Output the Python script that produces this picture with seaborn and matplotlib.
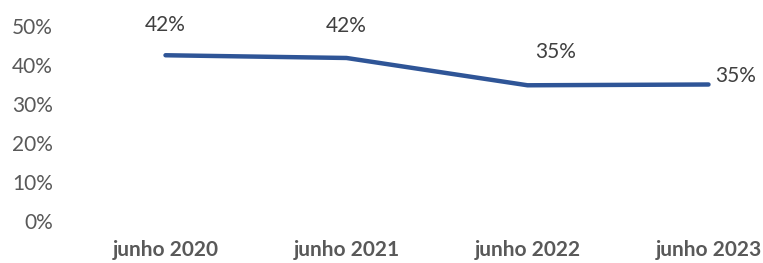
import matplotlib
matplotlib.use("Agg")
import matplotlib.pyplot as plt
import seaborn as sns
import pandas as pd
from matplotlib.ticker import PercentFormatter

# data
periods = ["junho 2020", "junho 2021", "junho 2022", "junho 2023"]
shares = [0.425, 0.418, 0.348, 0.350]
labels = ["42%", "42%", "35%", "35%"]

df = pd.DataFrame({"periodo": periods, "valor": shares})

sns.set_theme(style="white")
plt.rcParams["font.family"] = ["Lato", "DejaVu Sans"]

grey = "#595959"
blue = "#2F5597"

fig = plt.figure(figsize=(7.63, 2.63), dpi=100)
# axes placed in pixel terms: left 75px, 0% at y=221, 50% at y=26
ax = fig.add_axes([75 / 763, 42 / 263, 688 / 763, 195 / 263])

sns.lineplot(data=df, x="periodo", y="valor", sort=False, color=blue,
             linewidth=3.2, solid_capstyle="round", ax=ax)

ax.set_ylim(0, 0.5)
ax.set_xlim(-0.5, -0.5 + 688 / 181)
ax.set_yticks([0, 0.1, 0.2, 0.3, 0.4, 0.5])
ax.yaxis.set_major_formatter(PercentFormatter(1.0, decimals=0))
ax.set_xlabel("")
ax.set_ylabel("")
sns.despine(ax=ax, left=True, bottom=True)
ax.tick_params(axis="y", colors=grey, labelsize=15, length=0, pad=16)
ax.tick_params(axis="x", colors=grey, labelsize=15, length=0, pad=14)
for t in ax.get_xticklabels():
    t.set_fontweight("bold")

# data labels (offsets in pixels from each point)
offsets = [(0, 30, "center"), (0, 32, "center"), (28, 33, "center"), (7, 9, "left")]
for i, (val, lab) in enumerate(zip(shares, labels)):
    dx, dy, ha = offsets[i]
    ax.annotate(lab, (i, val), xytext=(dx, dy), textcoords="offset pixels",
                ha=ha, va="center", fontsize=15, color="#404040",
                annotation_clip=False)

fig.savefig("out.png", dpi=100)
